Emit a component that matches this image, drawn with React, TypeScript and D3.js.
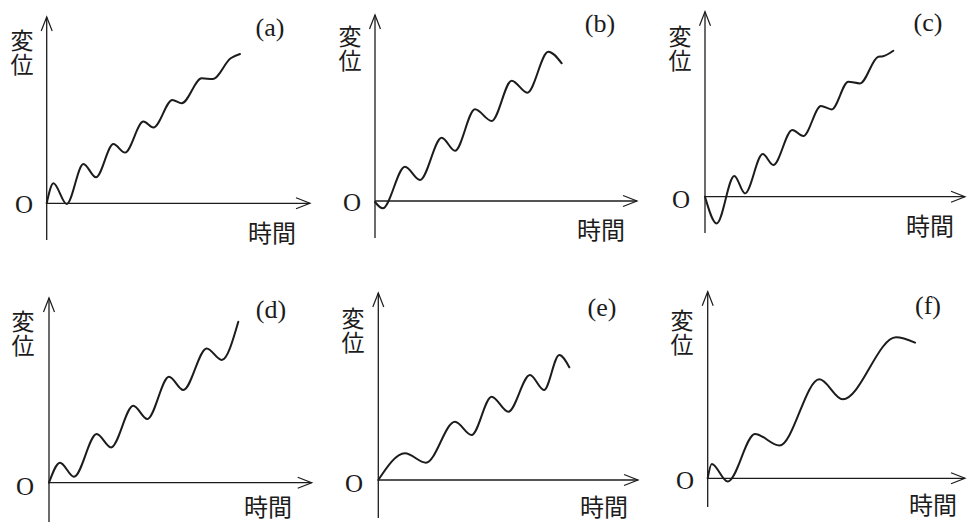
import React from "react";
import * as d3 from "d3";

// ---- Data (time, displacement), one pair of arrays per panel ----
const labels = ["(a)", "(b)", "(c)", "(d)", "(e)", "(f)"];
const yLabel = "変位";
const xLabel = "時間";
const originLabel = "O";

const timeA = [0, 6.7, 20, 36.7, 49.3, 66.7, 78.3, 96.7, 106.7, 125.7, 135, 155, 166, 184, 193.3];
const dispA = [0, 20, -0.7, 39.3, 26, 59.3, 50.7, 81.7, 75.7, 103.3, 100, 125, 124.3, 145, 149.3];

const timeB = [0, 7.7, 30, 45, 66.7, 80, 100, 116.7, 136.7, 152.3, 173.3, 186.7];
const dispB = [-1, -7.3, 34.3, 21, 63.3, 50.3, 91.7, 80, 120.3, 108.3, 149.3, 137.7];

const timeC = [0, 11.7, 29.3, 40, 57.7, 68.3, 87.3, 98.3, 116, 126.7, 143.3, 155, 173.3, 178, 188.3];
const dispC = [0, -26.7, 20.7, 3.3, 42.7, 31.7, 66.7, 60.7, 90.7, 87.3, 115, 113.3, 140, 140.5, 146];

const timeD = [0, 11, 25, 47.7, 62, 84.3, 98.3, 120, 134.3, 157.7, 172.7, 189.3];
const dispD = [0, 20, 6, 48.7, 35.3, 77, 63.7, 106, 92.7, 134.3, 122.7, 161];

const timeE = [0, 26.7, 47.7, 76.7, 93.3, 113.3, 130, 151.7, 165.7, 181, 191];
const dispE = [0, 26.7, 17.3, 58.3, 45, 83.3, 68.3, 105, 90, 125, 112.7];

const timeF = [0, 4, 20, 47.3, 71.7, 111.7, 135, 188.3, 207.3];
const dispF = [0, 14.3, -3.3, 44.3, 32.7, 99, 79, 141, 135.7];

const times = [timeA, timeB, timeC, timeD, timeE, timeF];
const disps = [dispA, dispB, dispC, dispD, dispE, dispF];

// ---- Layout of each panel (pixels) ----
const layout = [
  { ox: 46.7, oy: 203.3, top: 17, bottom: 240, right: 310, lab: [270, 27], oPos: [24, 204], yl: [22, 53], xl: [272, 231] },
  { ox: 375, oy: 201, top: 15, bottom: 238, right: 637, lab: [600, 23], oPos: [352, 202], yl: [350, 49], xl: [601, 228] },
  { ox: 705, oy: 196.7, top: 11.7, bottom: 233, right: 965, lab: [928, 22], oPos: [681, 199], yl: [680, 48.5], xl: [930, 224] },
  { ox: 49, oy: 482.7, top: 298, bottom: 522, right: 311.7, lab: [271, 309], oPos: [25, 486], yl: [23, 334], xl: [268, 505] },
  { ox: 378.3, oy: 480, top: 293, bottom: 518, right: 638, lab: [602, 307], oPos: [354, 483], yl: [353, 331], xl: [604, 505] },
  { ox: 707.7, oy: 478.3, top: 291.7, bottom: 507, right: 965, lab: [928, 305], oPos: [685, 480], yl: [682, 333], xl: [933, 503] },
];

const ink = "#1c1c1c";
const serif = "'Liberation Serif', 'DejaVu Serif', serif";
const cjk = "'Noto Sans CJK JP', 'Noto Sans CJK SC', sans-serif";

function Panel({ i }: { i: number }) {
  const L = layout[i];
  const xLen = L.right - L.ox;
  const yUp = L.oy - L.top;
  const yDown = L.bottom - L.oy;
  const x = d3.scaleLinear().domain([0, xLen]).range([L.ox, L.right]);
  const y = d3.scaleLinear().domain([-yDown, yUp]).range([L.bottom, L.top]);
  const pts = times[i].map((t, k) => [t, disps[i][k]] as [number, number]);
  const line = d3
    .line<[number, number]>()
    .x((d) => x(d[0]))
    .y((d) => y(d[1]))
    .curve(d3.curveMonotoneX);
  const ax = x(0);
  const ay = y(0);
  const aw = 5.5;
  const al = 14;
  return (
    <g>
      {/* y axis */}
      <line x1={ax} y1={L.bottom} x2={ax} y2={L.top} stroke={ink} strokeWidth={1.3} />
      <polyline
        points={`${ax - aw},${L.top + al} ${ax},${L.top} ${ax + aw},${L.top + al}`}
        fill="none"
        stroke={ink}
        strokeWidth={1.2}
      />
      {/* x axis */}
      <line x1={ax} y1={ay} x2={L.right} y2={ay} stroke={ink} strokeWidth={1.3} />
      <polyline
        points={`${L.right - al},${ay - aw} ${L.right},${ay} ${L.right - al},${ay + aw}`}
        fill="none"
        stroke={ink}
        strokeWidth={1.2}
      />
      {/* curve */}
      <path d={line(pts) || ""} fill="none" stroke={ink} strokeWidth={2} strokeLinecap="round" />
      {/* texts */}
      <text x={L.oPos[0]} y={L.oPos[1]} fontFamily={serif} fontSize={25} fill={ink} textAnchor="middle" dominantBaseline="central">
        {originLabel}
      </text>
      <text x={L.lab[0]} y={L.lab[1]} fontFamily={serif} fontSize={26} fill={ink} textAnchor="middle" dominantBaseline="central">
        {labels[i]}
      </text>
      <text
        x={L.yl[0]}
        y={L.yl[1]}
        fontFamily={cjk}
        fontSize={23}
        fill={ink}
        textAnchor="middle"
        letterSpacing={1}
        style={{ writingMode: "vertical-rl" }}
      >
        {yLabel}
      </text>
      <text x={L.xl[0]} y={L.xl[1]} fontFamily={cjk} fontSize={24} fill={ink} textAnchor="middle" dominantBaseline="central">
        {xLabel}
      </text>
    </g>
  );
}

export default function App() {
  return (
    <svg
      width={967}
      height={523}
      viewBox="0 0 967 523"
      style={{ position: "absolute", left: 0, top: 0, background: "#fff" }}
    >
      <rect x={0} y={0} width={967} height={523} fill="#fff" />
      {layout.map((_, i) => (
        <Panel key={i} i={i} />
      ))}
    </svg>
  );
}
